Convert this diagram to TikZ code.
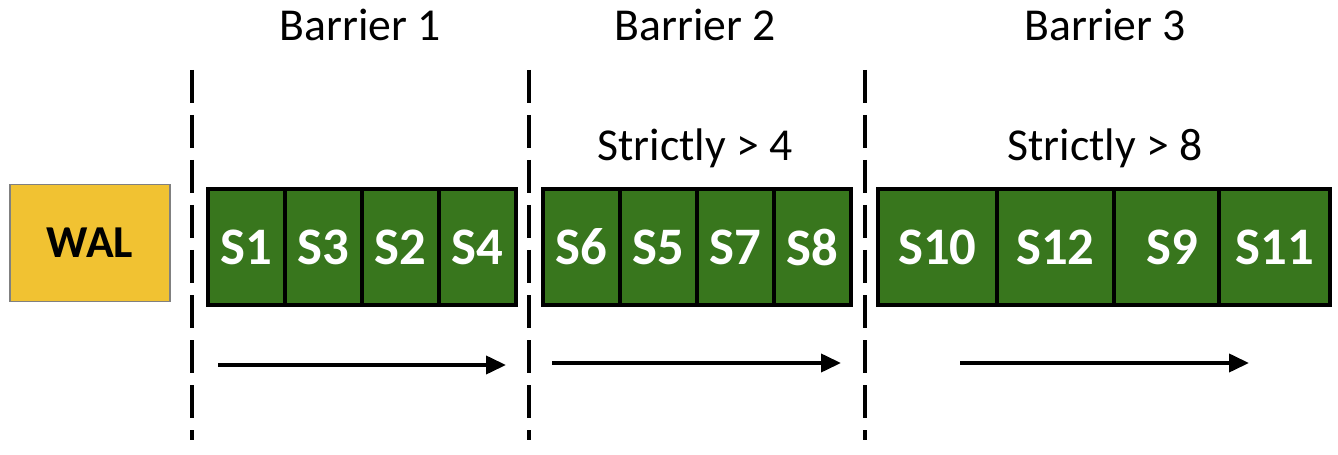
\documentclass[tikz,border=0pt]{standalone}
\usepackage{fontspec}
\setmainfont{Carlito}
\usepackage{tikz}
\usetikzlibrary{positioning, arrows.meta}
\definecolor{cellgreen}{HTML}{38761D}
\definecolor{walyellow}{HTML}{F1C232}
\tikzset{
cell/.style={draw=black, line width=2pt, fill=cellgreen, minimum width=1.54cm, minimum height=2.32cm, inner sep=0pt, outer sep=0pt, text=white, font=\fontsize{30}{33}\selectfont\bfseries}, % one slot of a barrier
wal/.style={draw=gray, line width=0.8pt, fill=walyellow, minimum width=3.2cm, minimum height=2.34cm, font=\fontsize{26}{30}\selectfont\bfseries}, % the log box
label/.style={font=\fontsize{26}{30}\selectfont}, % texts above the slots
barrier/.style={line width=2.2pt, dash pattern=on 0.66cm off 0.24cm}, % the dashed separators
order/.style={-{Triangle[length=0.4cm, width=0.36cm]}, line width=2.2pt}, % order of the slots
}

\begin{document}
\begin{tikzpicture}
            \useasboundingbox (0,0) rectangle (26.76,-9.1);
            \node[wal] (wal) at (1.8,-4.86) {WAL};
            % barrier 1
            \node[cell, anchor=west] (s1) at (4.16,-4.94) {S1};
            \node[cell, right=0pt of s1] (s3) {S3};
            \node[cell, right=0pt of s3] (s2) {S2};
            \node[cell, right=0pt of s2] (s4) {S4};
            % barrier 2
            \node[cell, anchor=west] (s6) at (10.86,-4.94) {S6};
            \node[cell, right=0pt of s6] (s5) {S5};
            \node[cell, right=0pt of s5] (s7) {S7};
            \node[cell, right=0pt of s7] (s8) {S8};
            % barrier 3
            \node[cell, anchor=west, minimum width=2.38cm] (s10) at (17.56,-4.94) {S10};
            \node[cell, right=0pt of s10, minimum width=2.34cm] (s12) {S12};
            \node[cell, right=0pt of s12, minimum width=2.10cm, text width=2.10cm, align=center] (s9) {\hspace*{0.25cm}S9};
            \node[cell, right=0pt of s9, minimum width=2.22cm] (s11) {S11};

            \node[label] (bar1) at (7.2,-0.5) {Barrier 1};
            \node[label] (bar2) at (13.9,-0.5) {Barrier 2};
            \node[label] (bar3) at (22.1,-0.5) {Barrier 3};
            \node[label] (gt4) at (13.9,-2.96) {Strictly > 4};
            \node[label] (gt8) at (22.1,-2.96) {Strictly > 8};

            \coordinate (d1top) at (3.84,-1.4);
            \coordinate (d1bot) at (3.84,-8.8);
            \coordinate (d2top) at (10.58,-1.4);
            \coordinate (d2bot) at (10.58,-8.8);
            \coordinate (d3top) at (17.30,-1.4);
            \coordinate (d3bot) at (17.30,-8.8);
            \draw[barrier] (d1top) -- (d1bot);
            \draw[barrier] (d2top) -- (d2bot);
            \draw[barrier] (d3top) -- (d3bot);

            \coordinate (a1) at (4.36,-7.3);
            \coordinate (b1) at (10.12,-7.3);
            \coordinate (a2) at (11.04,-7.26);
            \coordinate (b2) at (16.82,-7.26);
            \coordinate (a3) at (19.2,-7.26);
            \coordinate (b3) at (24.98,-7.26);
            \draw[order] (a1) -- (b1);
            \draw[order] (a2) -- (b2);
            \draw[order] (a3) -- (b3);
\end{tikzpicture}
\end{document}
